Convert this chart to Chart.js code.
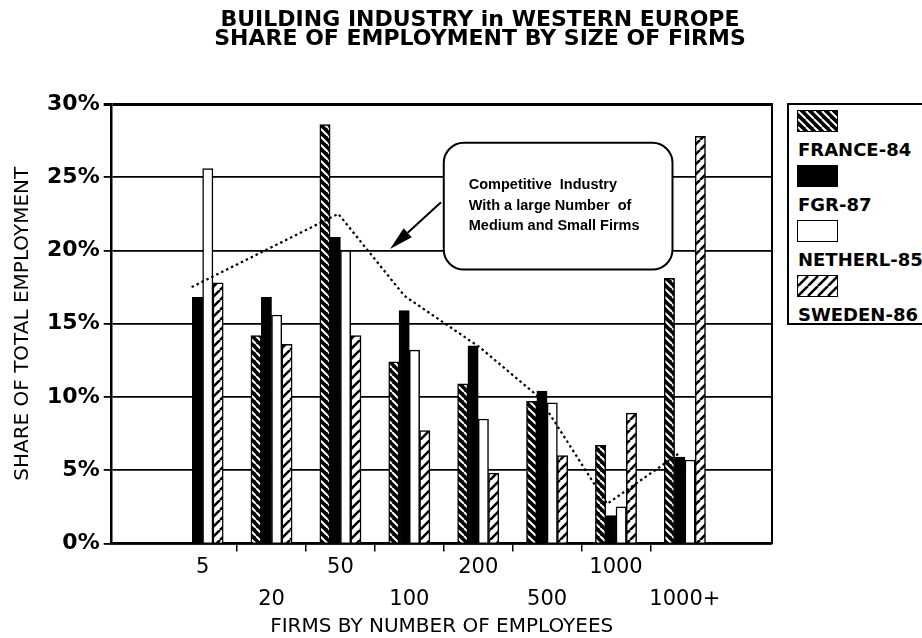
<!DOCTYPE html>
<html>
<head>
<meta charset="utf-8">
<script src="https://cdn.jsdelivr.net/npm/chart.js@4.4.1/dist/chart.umd.min.js"></script>
<style>
  html, body { margin: 0; padding: 0; background: #fff; }
  body { width: 922px; height: 638px; overflow: hidden; position: relative; }
  #chart { position: absolute; left: 0; top: 0; }
  #legend {
    position: absolute; left: 787px; top: 103px; width: 150px; height: 218px;
    border: 2px solid #000; background: #fff;
    font: bold 18px "DejaVu Sans", sans-serif; color: #000;
  }
  #legend .swatch { position: absolute; left: 8px; width: 41px; height: 22px; border: 1.5px solid #000; box-sizing: border-box; }
  #legend .entry { position: absolute; left: 9px; line-height: 20px; white-space: nowrap; }
</style>
</head>
<body>
<canvas id="chart" width="960" height="638"></canvas>
<div id="legend"></div>
<script>
// firm size classes (number of employees)
const sizeLabels = ['5', '20', '50', '100', '200', '500', '1000', '1000+'];
const seriesNames = ['FRANCE-84', 'FGR-87', 'NETHERL-85', 'SWEDEN-86'];

// share of total employment, %
const france84  = [0, 14.2, 28.6, 12.4, 10.9, 9.7, 6.7, 18.1];
const fgr87     = [16.8, 16.8, 20.9, 15.9, 13.5, 10.4, 1.9, 5.9];
const netherl85 = [25.6, 15.6, 20.0, 13.2, 8.5, 9.6, 2.5, 5.7];
const sweden86  = [17.8, 13.6, 14.2, 7.7, 4.8, 6.0, 8.9, 27.8];

// dotted trend line, x in size-class units
const trendX = [-0.16, 1.97, 2.93, 4.02, 4.88, 5.87, 6.93];
const trendY = [17.5, 22.5, 16.9, 13.4, 10.0, 2.7, 6.2];

const calloutText = ['Competitive  Industry', 'With a large Number  of', 'Medium and Small Firms'];

// callout placement in axis units
const callout = {
  box: { x0: 3.5, x1: 6.82, yTop: 27.35, yBottom: 18.7 },
  arrowFrom: { x: 3.46, y: 23.3 },
  arrowTo: { x: 2.72, y: 20.1 }
};

function hatchTile(size, dir, fg, bg, lw) {
  const c = document.createElement('canvas');
  c.width = c.height = size;
  const g = c.getContext('2d');
  g.fillStyle = bg;
  g.fillRect(0, 0, size, size);
  g.strokeStyle = fg;
  g.lineWidth = lw;
  g.beginPath();
  for (const k of [-1, 0, 1]) {
    const o = k * size;
    if (dir === '\\') { g.moveTo(o, 0); g.lineTo(o + size, size); }
    else { g.moveTo(o, size); g.lineTo(o + size, 0); }
  }
  g.stroke();
  return c;
}

const franceTile = hatchTile(8, '\\', '#fff', '#000', 2);
const swedenTile = hatchTile(10, '/', '#000', '#fff', 2.6);
const pctx = document.createElement('canvas').getContext('2d');
const fills = [pctx.createPattern(franceTile, 'repeat'), '#000', '#fff', pctx.createPattern(swedenTile, 'repeat')];
const swatchCss = ['url(' + franceTile.toDataURL() + ')', '#000', '#fff', 'url(' + swedenTile.toDataURL() + ')'];

const seriesValues = [france84, fgr87, netherl85, sweden86];

const barSets = seriesValues.map((vals, s) => ({
  type: 'bar',
  label: seriesNames[s],
  data: vals.map((v, i) => ({ x: i, y: v })),
  backgroundColor: fills[s],
  borderColor: '#000',
  borderWidth: 1.5,
  barThickness: 10.3,
  order: 1
}));

const calloutPlugin = {
  id: 'callout',
  afterDatasetsDraw(chart) {
    const { ctx, scales: { x, y } } = chart;
    const l = x.getPixelForValue(callout.box.x0), r = x.getPixelForValue(callout.box.x1);
    const t = y.getPixelForValue(callout.box.yTop), b = y.getPixelForValue(callout.box.yBottom);
    const rad = 20;
    ctx.save();
    ctx.beginPath();
    ctx.moveTo(l + rad, t);
    ctx.arcTo(r, t, r, b, rad);
    ctx.arcTo(r, b, l, b, rad);
    ctx.arcTo(l, b, l, t, rad);
    ctx.arcTo(l, t, r, t, rad);
    ctx.closePath();
    ctx.fillStyle = '#fff';
    ctx.fill();
    ctx.lineWidth = 2;
    ctx.strokeStyle = '#000';
    ctx.stroke();

    ctx.fillStyle = '#000';
    ctx.font = 'bold 14.5px "Liberation Sans", Arial, sans-serif';
    ctx.textBaseline = 'middle';
    calloutText.forEach((line, i) => ctx.fillText(line, l + 25, t + 42 + i * 20.8));

    // arrow pointing at the trend
    const ax = x.getPixelForValue(callout.arrowFrom.x), ay = y.getPixelForValue(callout.arrowFrom.y);
    const tx = x.getPixelForValue(callout.arrowTo.x), ty = y.getPixelForValue(callout.arrowTo.y);
    const ang = Math.atan2(ty - ay, tx - ax);
    const head = 24, half = 6;
    const bx = tx - head * Math.cos(ang), by = ty - head * Math.sin(ang);
    ctx.beginPath();
    ctx.moveTo(ax, ay);
    ctx.lineTo(bx, by);
    ctx.stroke();
    ctx.beginPath();
    ctx.moveTo(tx, ty);
    ctx.lineTo(bx + half * Math.sin(ang), by - half * Math.cos(ang));
    ctx.lineTo(bx - half * Math.sin(ang), by + half * Math.cos(ang));
    ctx.closePath();
    ctx.fill();
    ctx.restore();
  }
};

new Chart(document.getElementById('chart'), {
  type: 'bar',
  data: {
    datasets: [
      {
        type: 'line',
        label: 'trend',
        data: trendX.map((x, i) => ({ x: x, y: trendY[i] })),
        borderColor: '#000',
        borderWidth: 2.2,
        borderDash: [2.5, 3],
        pointRadius: 0,
        fill: false,
        tension: 0,
        order: 0
      },
      ...barSets
    ]
  },
  options: {
    responsive: false,
    animation: false,
    events: [],
    plugins: {
      legend: { display: false },
      tooltip: { enabled: false },
      title: {
        display: true,
        text: ['BUILDING INDUSTRY in WESTERN EUROPE', 'SHARE OF EMPLOYMENT BY SIZE OF FIRMS'],
        color: '#000',
        font: { family: 'DejaVu Sans', size: 22, weight: 'bold', lineHeight: 0.85 },
        padding: { top: 11.3, bottom: 55.3 }
      }
    },
    scales: {
      x: {
        type: 'linear',
        offset: false,
        min: -1.32,
        max: 8.26,
        afterBuildTicks: (scale) => {
          scale.ticks = sizeLabels.flatMap((_, i) =>
            i < sizeLabels.length - 1 ? [{ value: i }, { value: i + 0.5 }] : [{ value: i }]);
        },
        afterFit: (scale) => { scale.height = 94.5; },
        grid: {
          offset: false,
          drawOnChartArea: false,
          tickLength: 8,
          lineWidth: 1.5,
          color: '#000',
          tickColor: (ctx) => (ctx.tick && ctx.tick.value % 1 !== 0) ? '#000' : 'rgba(0,0,0,0)'
        },
        border: { color: '#000', width: 2.5 },
        ticks: {
          autoSkip: false,
          maxRotation: 0,
          minRotation: 0,
          padding: 0,
          color: '#000',
          font: { family: 'DejaVu Sans', size: 21, lineHeight: 1.524 },
          callback: (v) => {
            if (v % 1 !== 0) return '';
            return v % 2 === 0 ? sizeLabels[v] : ['', sizeLabels[v]];
          }
        },
        title: {
          display: true,
          text: 'FIRMS BY NUMBER OF EMPLOYEES',
          color: '#000',
          font: { family: 'DejaVu Sans', size: 20, lineHeight: 1.1 },
          padding: { top: 0, bottom: 0 }
        }
      },
      y: {
        min: 0,
        max: 30,
        afterFit: (scale) => { scale.width = 111.7; },
        grid: {
          color: '#000',
          lineWidth: (ctx) => (ctx.tick && ctx.tick.value === 30) ? 3 : 1.8,
          tickLength: 8
        },
        border: { color: '#000', width: 2.5 },
        ticks: {
          stepSize: 5,
          padding: 4,
          color: '#000',
          font: { family: 'DejaVu Sans', size: 22, weight: 'bold' },
          callback: (v) => v + '%'
        },
        title: {
          display: true,
          text: 'SHARE OF TOTAL EMPLOYMENT',
          color: '#000',
          font: { family: 'DejaVu Sans', size: 20, lineHeight: 1.2 },
          padding: { top: 10.7, bottom: 0 }
        }
      },
      y2: {
        display: true,
        position: 'right',
        min: 0,
        max: 30,
        afterFit: (scale) => { scale.width = 188.3; },
        grid: { display: false },
        ticks: { display: false },
        border: { display: true, color: '#000', width: 2 }
      }
    }
  },
  plugins: [calloutPlugin]
});

// legend: swatch above each series name
const legendEl = document.getElementById('legend');
seriesNames.forEach((name, i) => {
  const sw = document.createElement('div');
  sw.className = 'swatch';
  sw.style.top = (5 + 55 * i) + 'px';
  sw.style.background = swatchCss[i];
  legendEl.appendChild(sw);
  const tx = document.createElement('div');
  tx.className = 'entry';
  tx.style.top = (35 + 55 * i) + 'px';
  tx.textContent = name;
  legendEl.appendChild(tx);
});
</script>
</body>
</html>
